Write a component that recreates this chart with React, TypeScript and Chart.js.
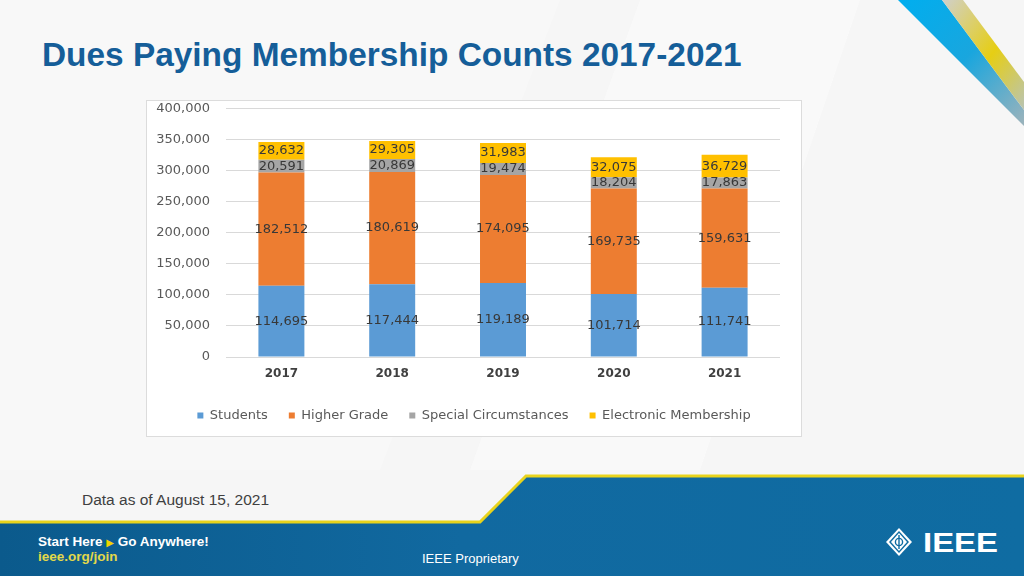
import React, { useEffect, useRef } from "react";
import { Chart, registerables } from "chart.js";

Chart.register(...registerables);

const years = ["2017", "2018", "2019", "2020", "2021"];
const students = [114695, 117444, 119189, 101714, 111741];
const higherGrade = [182512, 180619, 174095, 169735, 159631];
const specialCircumstances = [20591, 20869, 19474, 18204, 17863];
const electronicMembership = [28632, 29305, 31983, 32075, 36729];
const seriesNames = ["Students", "Higher Grade", "Special Circumstances", "Electronic Membership"];
const seriesColors = ["#5B9BD5", "#ED7D31", "#A5A5A5", "#FFC000"];
const yMin = 0;
const yMax = 400000;
const yStep = 50000;

const fmt = (v: number) => Number(v).toLocaleString("en-US");

const valueLabels = {
  id: "valueLabels",
  afterDatasetsDraw(chart: any) {
    const ctx = chart.ctx;
    ctx.save();
    ctx.font = "13px 'DejaVu Sans'";
    ctx.fillStyle = "#383838";
    ctx.textAlign = "center";
    ctx.textBaseline = "middle";
    chart.data.datasets.forEach((ds: any, i: number) => {
      const meta = chart.getDatasetMeta(i);
      meta.data.forEach((el: any, j: number) => {
        const p = el.getProps(["x", "y", "base"], true);
        ctx.fillText(fmt(ds.data[j]), p.x, (p.y + p.base) / 2);
      });
    });
    ctx.restore();
  },
};

function MembershipChart() {
  const ref = useRef<HTMLCanvasElement | null>(null);
  useEffect(() => {
    if (!ref.current) return;
    const seriesData = [students, higherGrade, specialCircumstances, electronicMembership];
    const chart = new Chart(ref.current, {
      type: "bar",
      data: {
        labels: years,
        datasets: seriesData.map((d, i) => ({
          label: seriesNames[i],
          data: d,
          backgroundColor: seriesColors[i],
          borderWidth: 0,
          categoryPercentage: 1,
          barPercentage: 0.415,
        })),
      },
      options: {
        animation: false,
        responsive: false,
        maintainAspectRatio: false,
        layout: { padding: { top: 7, right: 0, left: 0, bottom: 4 } },
        plugins: {
          tooltip: { enabled: false },
          legend: {
            position: "bottom",
            labels: {
              boxWidth: 6,
              boxHeight: 6,
              padding: 21,
              color: "#595959",
              font: { family: "'DejaVu Sans'", size: 13 },
            },
          },
        },
        scales: {
          x: {
            stacked: true,
            grid: { display: false, drawTicks: false },
            border: { display: false },
            ticks: {
              padding: 10,
              color: "#404040",
              font: { family: "'DejaVu Sans'", size: 12, weight: "bold" },
            },
            afterFit: (s: any) => {
              s.height = 31;
            },
          },
          y: {
            stacked: true,
            min: yMin,
            max: yMax,
            grid: {
              color: "#D9D9D9",
              lineWidth: 1,
              drawTicks: true,
              tickLength: 16,
              tickColor: "rgba(0,0,0,0)",
            },
            border: { display: false },
            ticks: {
              stepSize: yStep,
              padding: 0,
              color: "#595959",
              font: { family: "'DejaVu Sans'", size: 13 },
              callback: (v: any) => fmt(v),
            },
            afterFit: (s: any) => {
              s.width = 79;
            },
          },
          yRight: {
            position: "right",
            display: true,
            grid: { display: false, drawTicks: false },
            border: { display: false },
            ticks: { display: false, padding: 0 },
            afterFit: (s: any) => {
              s.width = 21;
            },
          },
        },
      } as any,
      plugins: [valueLabels],
    });
    return () => chart.destroy();
  }, []);
  return <canvas ref={ref} width={654} height={335} style={{ display: "block", width: 654, height: 335 }} />;
}

export default function App() {
  return (
    <div
      style={{
        position: "fixed",
        left: 0,
        top: 0,
        width: 1024,
        height: 576,
        overflow: "hidden",
        background: "#f6f6f6",
        fontFamily: "'Liberation Sans', Arial, sans-serif",
      }}
    >
      <svg width={1024} height={576} style={{ position: "absolute", left: 0, top: 0 }}>
        <defs>
          <linearGradient id="footerGrad" x1="0" y1="0" x2="1" y2="0">
            <stop offset="0" stopColor="#0b5a8c" />
            <stop offset="0.45" stopColor="#1169a0" />
            <stop offset="1" stopColor="#0f6ca2" />
          </linearGradient>
          <linearGradient id="blueStripe" x1="0" y1="0" x2="1" y2="1">
            <stop offset="0" stopColor="#00aeef" />
            <stop offset="0.5" stopColor="#19a6de" />
            <stop offset="1" stopColor="#9db3bb" />
          </linearGradient>
          <linearGradient id="yellowStripe" x1="0" y1="0" x2="1" y2="1">
            <stop offset="0" stopColor="#d0d0cc" />
            <stop offset="0.55" stopColor="#e6ce14" />
            <stop offset="1" stopColor="#b9c4b4" />
          </linearGradient>
        </defs>
        <polygon points="0,0 560,0 380,470 0,470" fill="#f8f8f8" />
        <polygon points="640,0 860,0 700,470 470,470" fill="#fbfbfb" opacity="0.7" />
        <polygon points="898,0 942,0 1024,110 1024,126" fill="url(#blueStripe)" />
        <polygon points="942,0 963,0 1024,82 1024,110" fill="url(#yellowStripe)" />
        <polygon points="0,522 480,522 526,476 1024,476 1024,576 0,576" fill="url(#footerGrad)" />
        <polyline points="0,522 480,522 526,476 1024,476" fill="none" stroke="#e8d31c" strokeWidth={3} />
        <g transform="translate(899,542)">
          <polygon points="0,-14 13,0 0,14 -13,0" fill="#ffffff" />
          <polygon points="0,-11 10,0 0,11 -10,0" fill="#0f6ca2" />
          <polygon points="0,-9 8,0 0,9 -8,0" fill="#ffffff" />
          <circle cx={0} cy={0} r={3.6} fill="none" stroke="#0f6ca2" strokeWidth={1.4} />
          <line x1={0} y1={-7} x2={0} y2={7} stroke="#0f6ca2" strokeWidth={1.4} />
        </g>
        <text
          x={923}
          y={552}
          fill="#ffffff"
          fontFamily="'Liberation Sans', Arial"
          fontWeight="bold"
          fontSize={28}
          textLength={75}
          lengthAdjust="spacingAndGlyphs"
        >
          IEEE
        </text>
      </svg>

      <div
        style={{
          position: "absolute",
          left: 42,
          top: 35,
          fontSize: 33.4,
          lineHeight: "40px",
          fontWeight: "bold",
          color: "#155e99",
          whiteSpace: "nowrap",
        }}
      >
        Dues Paying Membership Counts 2017-2021
      </div>

      <div
        style={{
          position: "absolute",
          left: 146,
          top: 100,
          width: 654,
          height: 335,
          background: "#ffffff",
          border: "1px solid #dcdcdc",
        }}
      >
        <MembershipChart />
      </div>

      <div
        style={{
          position: "absolute",
          left: 82,
          top: 491,
          fontSize: 15.5,
          lineHeight: "18px",
          color: "#404040",
          whiteSpace: "nowrap",
        }}
      >
        Data as of August 15, 2021
      </div>

      <div
        style={{
          position: "absolute",
          left: 38,
          top: 534,
          fontSize: 13.5,
          lineHeight: "16px",
          fontWeight: "bold",
          color: "#ffffff",
          whiteSpace: "nowrap",
        }}
      >
        Start Here <span style={{ color: "#f0d400", fontFamily: "'DejaVu Sans'", fontSize: 10 }}>▶</span> Go Anywhere!
      </div>
      <div
        style={{
          position: "absolute",
          left: 38,
          top: 549,
          fontSize: 13.5,
          lineHeight: "16px",
          fontWeight: "bold",
          color: "#e2d84a",
          whiteSpace: "nowrap",
        }}
      >
        ieee.org/join
      </div>
      <div
        style={{
          position: "absolute",
          left: 422,
          top: 551,
          fontSize: 13,
          lineHeight: "16px",
          color: "#ffffff",
          whiteSpace: "nowrap",
        }}
      >
        IEEE Proprietary
      </div>
    </div>
  );
}
